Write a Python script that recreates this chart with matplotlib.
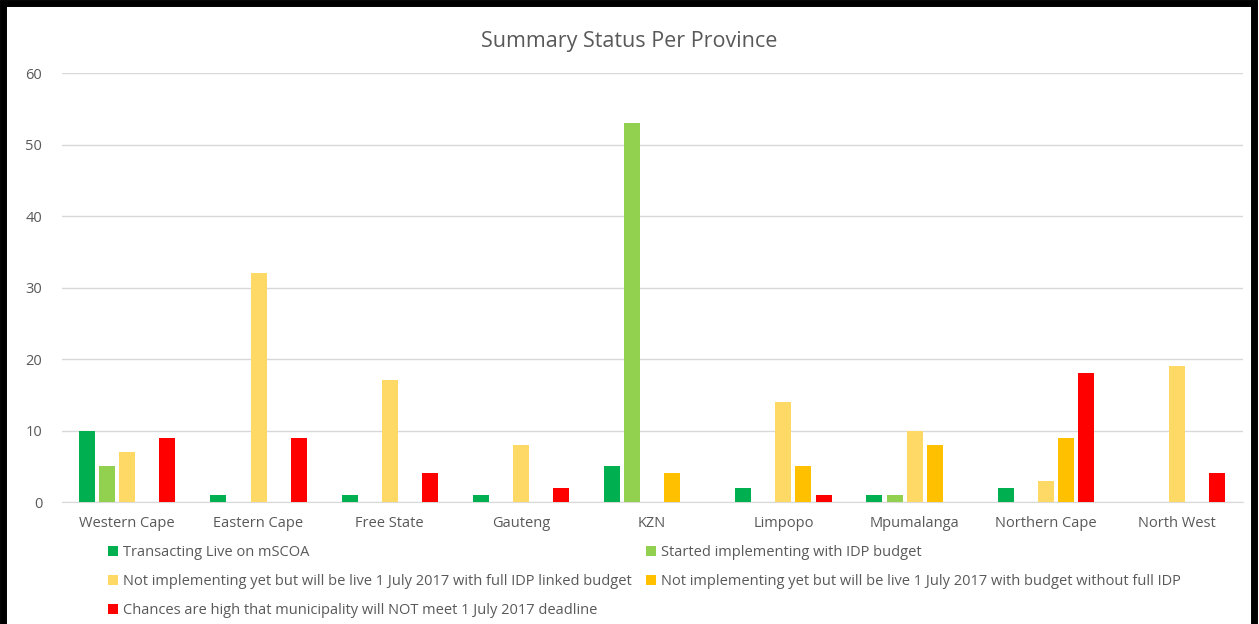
import matplotlib
matplotlib.use('Agg')
import matplotlib.pyplot as plt
import numpy as np
from matplotlib.patches import Rectangle

plt.rcParams['font.family'] = ['Open Sans', 'DejaVu Sans']

provinces = ['Western Cape', 'Eastern Cape', 'Free State', 'Gauteng', 'KZN',
             'Limpopo', 'Mpumalanga', 'Northern Cape', 'North West']
series = ['Transacting Live on mSCOA',
          'Started implementing with IDP budget',
          'Not implementing yet but will be live 1 July 2017 with full IDP linked budget',
          'Not implementing yet but will be live 1 July 2017 with budget without full IDP',
          'Chances are high that municipality will NOT meet 1 July 2017 deadline']
live = [10, 1, 1, 1, 5, 2, 1, 2, 0]
started = [5, 0, 0, 0, 53, 0, 1, 0, 0]
full_idp = [7, 32, 17, 8, 0, 14, 10, 3, 19]
no_full_idp = [0, 0, 0, 0, 4, 5, 8, 9, 0]
not_meet = [9, 9, 4, 2, 0, 1, 0, 18, 4]
colors = ['#00B050', '#92D050', '#FFD966', '#FFC000', '#FF0000']

values = [live, started, full_idp, no_full_idp, not_meet]
grey = '#595959'

fig = plt.figure(figsize=(12.59, 6.24), dpi=100)
ax = fig.add_axes([0.049, 0.1955, 0.938, 0.6875])

x = np.arange(len(provinces))
step = 0.153
w = 0.122
handles = []
for i, (vals, c) in enumerate(zip(values, colors)):
    b = ax.bar(x + (i - 2) * step, vals, w, color=c, zorder=3)
    handles.append(b)

ax.set_xlim(-0.5, len(provinces) - 0.5)
ax.set_ylim(0, 60)
ax.set_yticks(range(0, 61, 10))
ax.set_xticks(x)
ax.set_xticklabels(provinces)
ax.tick_params(axis='both', length=0, labelsize=10.5, labelcolor=grey)
ax.tick_params(axis='y', pad=14)
ax.tick_params(axis='x', pad=10)
ax.grid(axis='y', color='#D9D9D9', linewidth=1, zorder=0)
for s in ['top', 'right', 'left']:
    ax.spines[s].set_visible(False)
ax.spines['bottom'].set_color('#D9D9D9')

fig.text(0.5, 0.933, 'Summary Status Per Province', ha='center', va='center',
         fontsize=15.5, color=grey)

order = [0, 2, 4, 1, 3]
leg = fig.legend([handles[i] for i in order], [series[i] for i in order],
                 ncol=2, loc='upper left', bbox_to_anchor=(0.086, 0.126),
                 frameon=False, fontsize=10.5, handlelength=0.65, handleheight=0.65,
                 handletextpad=0.35, columnspacing=1.0, labelspacing=0.95,
                 borderaxespad=0, borderpad=0)
for t in leg.get_texts():
    t.set_color(grey)

fig.patches.append(Rectangle((0.002, -0.02), 0.994, 1.015, transform=fig.transFigure,
                             fill=False, edgecolor='black', linewidth=5))

fig.savefig('out.png', dpi=100)
